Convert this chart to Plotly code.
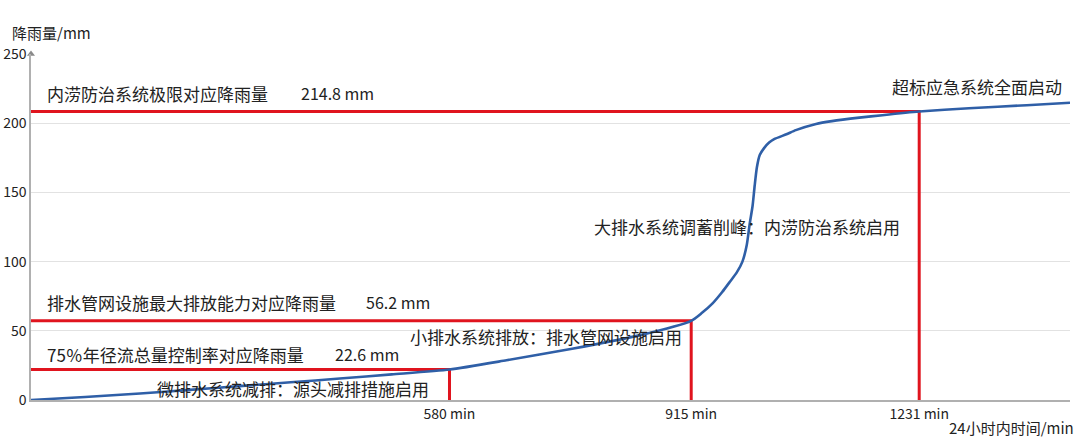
""" Rainfall accumulation curve over 24 hours with the
thresholds of the drainage systems marked in red
"""

import plotly.graph_objects as go


# cumulative rainfall curve
TIME_MIN = [0, 75, 151, 220, 289, 360, 428, 500, 580, 659, 750, 843, 915,
            930, 945, 958, 968, 978, 986, 992, 996, 1000, 1003, 1006, 1010,
            1016, 1023, 1030, 1047, 1060, 1088, 1110, 1148, 1180, 1231, 1300,
            1380, 1440]
RAIN_MM = [0, 2.2, 4.7, 7.3, 10, 12.8, 15.5, 18.5, 22, 28.7, 37, 46.7, 57.2,
           63, 70, 78, 85, 92, 100, 112, 127, 140, 155, 168, 177,
           182, 186, 188.5, 192, 195, 199.5, 201.5, 204, 205.8, 208.4, 210.8,
           213, 214.8]

# thresholds: time reached and rainfall level as drawn
THRESH_TIME = [580, 915, 1231]
THRESH_RAIN = [22.0, 57.2, 208.4]
THRESH_LABELS = ["75％年径流总量控制率对应降雨量",
                 "排水管网设施最大排放能力对应降雨量",
                 "内涝防治系统极限对应降雨量"]
THRESH_VALUES = ["22.6 mm", "56.2 mm", "214.8 mm"]

STAGE_LABELS = ["微排水系统减排：源头减排措施启用",
                "小排水系统排放：排水管网设施启用",
                "大排水系统调蓄削峰：内涝防治系统启用",
                "超标应急系统全面启动"]

Y_TICKS = [0, 50, 100, 150, 200, 250]

FONT = "Noto Sans CJK SC"
RED = "#e0141e"
BLUE = "#2f5fa7"
TEXT = "#222222"

W, H = 1080, 438
M_L, M_R, M_T, M_B = 31, 10, 53.5, 38

figure = go.Figure()

for t, p in zip(THRESH_TIME, THRESH_RAIN):
    figure.add_trace(go.Scatter(
        x=[0, t, t], y=[p, p, 0],
        mode="lines", line=dict(color=RED, width=3),
        hoverinfo="skip", cliponaxis=False
    ))

figure.add_trace(go.Scatter(
    x=TIME_MIN, y=RAIN_MM, mode="lines",
    line=dict(color=BLUE, width=2.6, shape="spline", smoothing=0.6),
    cliponaxis=False
))

# arrow head on top of the y axis
figure.add_trace(go.Scatter(
    x=[0], y=[Y_TICKS[-1]], mode="markers",
    marker=dict(symbol="triangle-up", size=7, color="#8a8a8a"),
    cliponaxis=False, hoverinfo="skip"
))

annotations = []
# threshold labels (label, then value further right)
label_y = [33, 70.5, 221.8]
value_x = [418, 462, 372]
for i in range(3):
    annotations.append(dict(
        x=19, y=label_y[i], text=THRESH_LABELS[i], xanchor="left",
        yanchor="middle", showarrow=False, font=dict(size=17, color=TEXT)
    ))
    annotations.append(dict(
        x=value_x[i], y=label_y[i], text=THRESH_VALUES[i], xanchor="left",
        yanchor="middle", showarrow=False, font=dict(size=16, color=TEXT)
    ))

stage_pos = [(172, 8.5, "left"), (522, 46, "left"), (778, 125.2, "left"),
             (1432, 226.8, "right")]
for text, (x, y, anchor) in zip(STAGE_LABELS, stage_pos):
    annotations.append(dict(
        x=x, y=y, text=text, xanchor=anchor, yanchor="middle",
        showarrow=False, font=dict(size=17, color=TEXT)
    ))

# axis titles, placed in pixels then turned into paper fractions
for text, px, py, anchor in [("降雨量/mm", 10, 32, "left"),
                             ("24小时内时间/min", 1076, 428, "right")]:
    annotations.append(dict(
        x=(px - M_L) / (W - M_L - M_R),
        y=(H - py - M_B) / (H - M_B - M_T),
        xref="paper", yref="paper", text=text, showarrow=False,
        xanchor=anchor, yanchor="middle", font=dict(size=15, color=TEXT)
    ))

figure.update_layout(
    width=W, height=H,
    margin=dict(l=M_L, r=M_R, t=M_T, b=M_B, autoexpand=False),
    paper_bgcolor="white", plot_bgcolor="white",
    showlegend=False,
    font=dict(family=FONT, color=TEXT),
    annotations=annotations,
    xaxis=dict(
        range=[0, 1440], tickvals=THRESH_TIME,
        ticktext=[f"{t} min" for t in THRESH_TIME],
        showgrid=False, zeroline=False, showline=True, automargin=False,
        linecolor="#b0b0b0", linewidth=1.5, ticks="",
        tickfont=dict(size=14, color=TEXT)
    ),
    yaxis=dict(
        range=[0, 250], tickvals=Y_TICKS, showgrid=True, automargin=False,
        gridcolor="#e2e2e2", gridwidth=1, zeroline=False,
        showline=True, linecolor="#b0b0b0", linewidth=1.5, ticks="",
        tickfont=dict(size=14, color=TEXT)
    )
)

figure.write_html(
    "out.html",
    config={"displayModeBar": False},
    post_script="document.body.style.margin='0';"
)
